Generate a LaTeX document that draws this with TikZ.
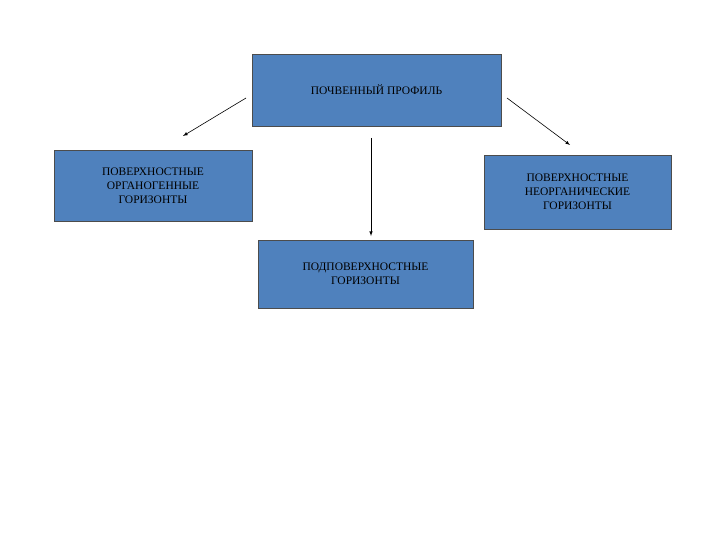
\documentclass[tikz,border=0pt]{standalone}
\usepackage{fontspec}
\setmainfont{Liberation Serif}
\begin{document}
\begin{tikzpicture}[x=1pt,y=-1pt,
  box/.style={draw=black!70,fill={rgb,255:red,79;green,129;blue,189},line width=0.8pt,align=center,font=\fontsize{11.5}{14}\selectfont,inner sep=0pt},
  arr/.style={-latex,line width=0.6pt}]
\useasboundingbox (0,0) rectangle (720,540);
\node[box,minimum width=249,minimum height=72] (top) at (376.5,90) {ПОЧВЕННЫЙ ПРОФИЛЬ};
\node[box,minimum width=198,minimum height=71] (left) at (153,185.5) {ПОВЕРХНОСТНЫЕ\\ОРГАНОГЕННЫЕ\\ГОРИЗОНТЫ};
\node[box,minimum width=187,minimum height=74] (right) at (577.5,192) {ПОВЕРХНОСТНЫЕ\\НЕОРГАНИЧЕСКИЕ\\ГОРИЗОНТЫ};
\node[box,minimum width=215,minimum height=68] (mid) at (365.5,274) {ПОДПОВЕРХНОСТНЫЕ\\ГОРИЗОНТЫ};
\coordinate (a1) at (246,98); \coordinate (a2) at (183,136);
\coordinate (b1) at (507,98); \coordinate (b2) at (570,145);
\coordinate (c1) at (371,138); \coordinate (c2) at (371,236);
\draw[arr] (a1) -- (a2);
\draw[arr] (b1) -- (b2);
\draw[arr] (c1) -- (c2);
\end{tikzpicture}
\end{document}
